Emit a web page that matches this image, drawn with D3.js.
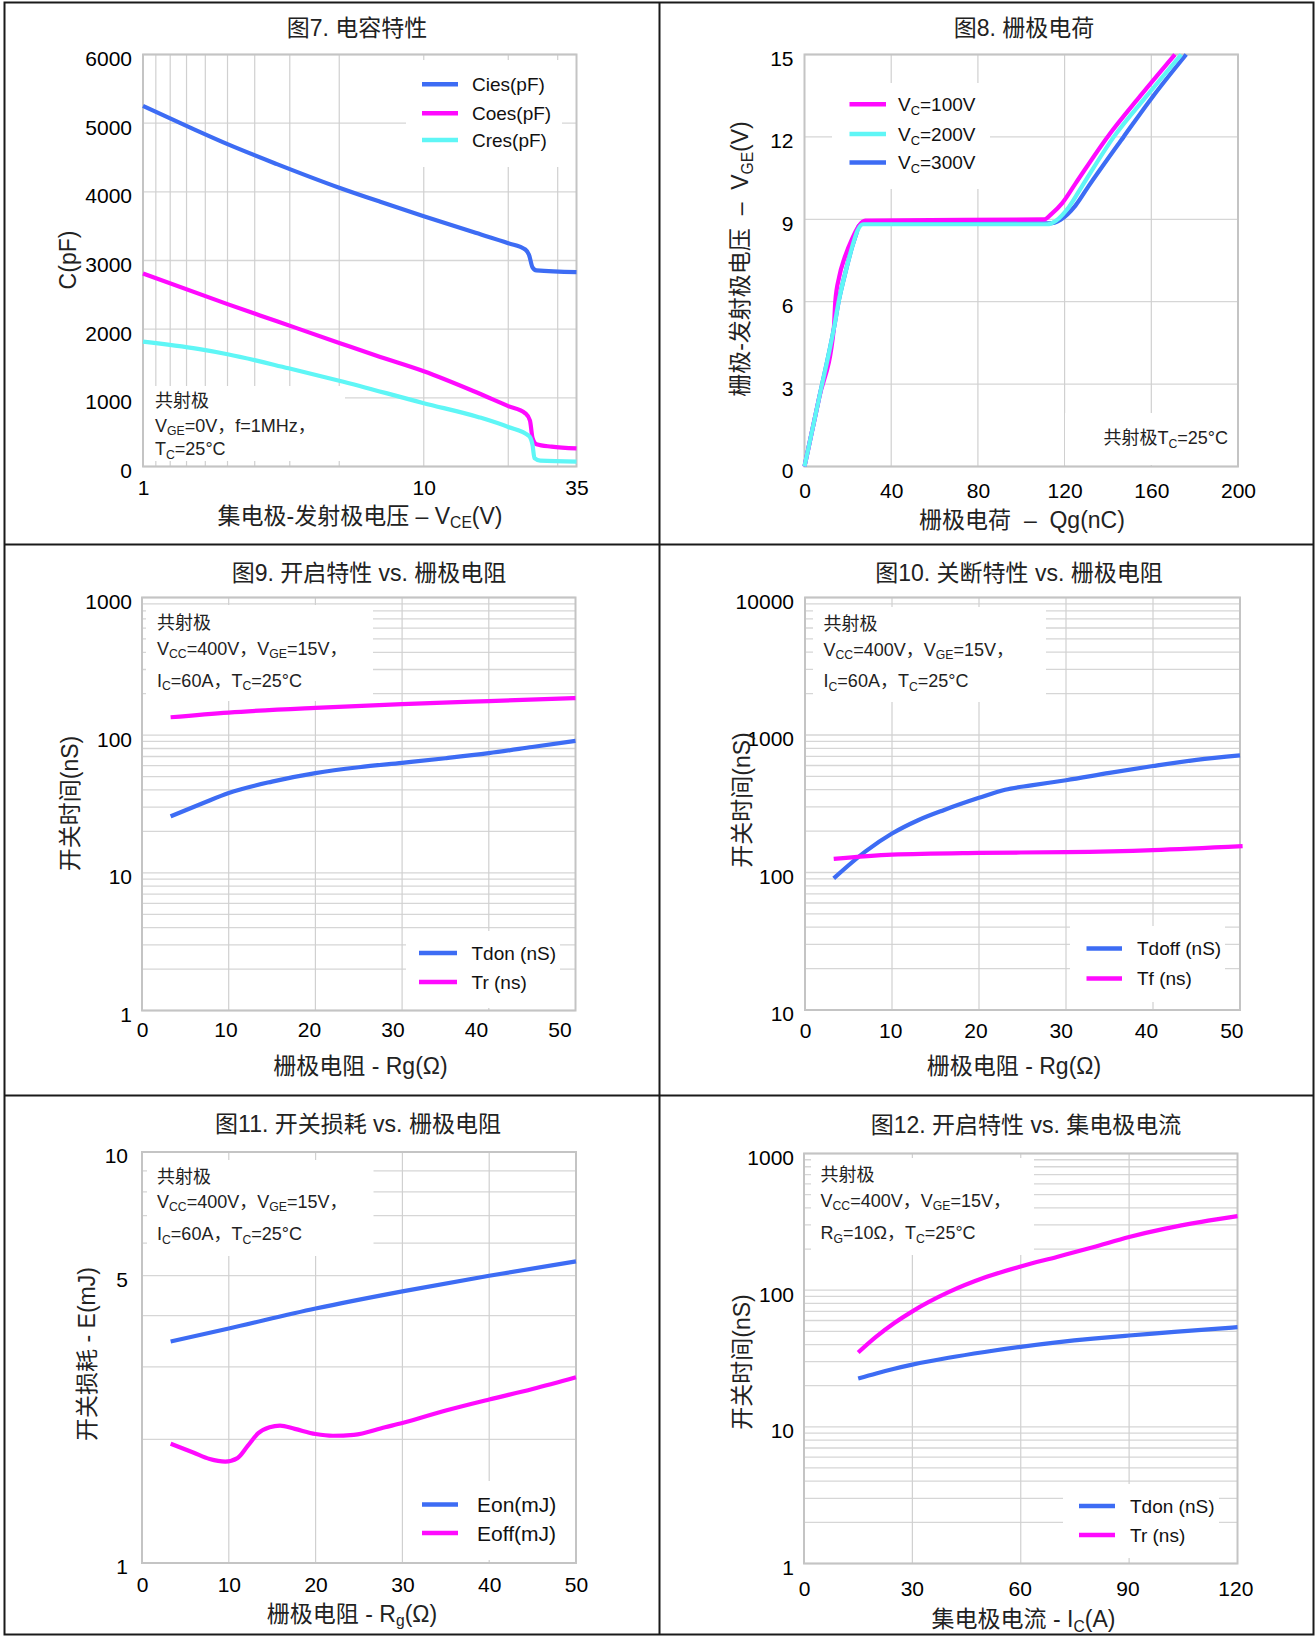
<!DOCTYPE html>
<html>
<head>
<meta charset="utf-8">
<script src="https://cdn.jsdelivr.net/npm/d3@7"></script>
<style>
  body { margin: 0; background: #fff; }
  svg { display: block; }
  text { font-family: 'Liberation Sans', Arial, 'Noto Sans CJK SC', sans-serif; fill: #111; }
</style>
</head>
<body>
<script>
// ---- 图7 电容特性 ----
const fig7XTicks = [1, 10, 35];
const fig7XGrid = [1.111, 1.25, 1.429, 1.667, 2, 2.5, 3.333, 5, 10, 20, 30];
const fig7YTicks = [0, 1000, 2000, 3000, 4000, 5000, 6000];
const fig7CiesV = [1, 1.5, 2, 3, 5, 7, 10, 15, 20, 23, 23.7, 24.4, 25.2, 35];
const fig7Cies = [5250, 4920, 4694, 4404, 4060, 3855, 3646, 3414, 3252, 3160, 3085, 2900, 2855, 2830];
const fig7CoesV = [1, 2, 3, 5, 7, 10, 15, 20, 23, 23.9, 24.4, 25.2, 28.5, 35];
const fig7Coes = [2810, 2365, 2115, 1800, 1595, 1387, 1100, 880, 775, 668, 415, 324, 289, 263];
const fig7CresV = [1, 1.57, 2, 3.3, 5, 10, 15.8, 20, 23.7, 24.4, 24.8, 26, 35];
const fig7Cres = [1818, 1712, 1635, 1430, 1250, 922, 715, 575, 445, 314, 122, 86, 71];

// ---- 图8 栅极电荷 ----
const fig8XTicks = [0, 40, 80, 120, 160, 200];
const fig8YTicks = [0, 3, 6, 9, 12, 15];
const fig8Q100 = [0, 6.75, 13.5, 14.2, 16, 18.5, 22, 25, 28, 110.7, 114, 119, 125, 139.8, 155, 170.9];
const fig8V100 = [0, 2.5, 5, 6, 6.9, 7.6, 8.3, 8.75, 8.95, 9.0, 9.2, 9.6, 10.3, 12, 13.5, 15];
const fig8Q200 = [0, 6.75, 13.5, 16, 19, 22, 24.5, 27, 112, 116, 122, 128, 142.7, 158, 173.8];
const fig8V200 = [0, 2.5, 5, 6.1, 7.1, 8.0, 8.6, 8.82, 8.82, 8.95, 9.45, 10.2, 12, 13.5, 15];
const fig8Q300 = [0, 6.75, 13.5, 16, 19, 22, 24, 25, 27, 113, 118, 125, 131, 147.2, 161, 176.1];
const fig8V300 = [0, 2.5, 5, 6.1, 7.1, 8.0, 8.5, 8.75, 8.85, 8.85, 8.98, 9.5, 10.2, 12, 13.5, 15];

// ---- 图9 开启特性 vs. 栅极电阻 ----
const fig9XTicks = [0, 10, 20, 30, 40, 50];
const fig9YTicks = [1, 10, 100, 1000];
const fig9RgTdon = [3.3, 7, 10, 15, 20, 25, 30, 35, 40, 45, 50];
const fig9Tdon = [25.7, 32, 38, 46, 53, 58.5, 63, 68, 74, 82, 91];
const fig9RgTr = [3.3, 10, 20, 30, 40, 50];
const fig9Tr = [135, 146, 158, 168, 177, 186];

// ---- 图10 关断特性 vs. 栅极电阻 ----
const fig10XTicks = [0, 10, 20, 30, 40, 50];
const fig10YTicks = [10, 100, 1000, 10000];
const fig10RgTdoff = [3.3, 7, 10, 13, 16, 20, 23, 26, 30, 35, 40, 45, 50];
const fig10Tdoff = [90.6, 143, 192, 240, 285, 349, 400, 430, 469, 530, 595, 660, 711];
const fig10RgTf = [3.3, 10, 20, 30, 40, 50.3];
const fig10Tf = [125.6, 134.9, 139, 140.6, 145.6, 155.6];

// ---- 图11 开关损耗 vs. 栅极电阻 ----
const fig11XTicks = [0, 10, 20, 30, 40, 50];
const fig11YTicks = [1, 5, 10];
const fig11RgEon = [3.3, 10, 20, 30, 40, 50];
const fig11Eon = [3.46, 3.72, 4.16, 4.58, 5.0, 5.42];
const fig11RgEoff = [3.3, 5.9, 7.8, 9.6, 11, 12.2, 13.4, 14.7, 15.9, 17.6, 20, 22, 24.4, 28, 30, 35, 40, 45, 50];
const fig11Eoff = [1.95, 1.857, 1.79, 1.765, 1.80, 1.93, 2.07, 2.14, 2.16, 2.12, 2.06, 2.04, 2.05, 2.14, 2.19, 2.35, 2.50, 2.65, 2.83];

// ---- 图12 开启特性 vs. 集电极电流 ----
const fig12XTicks = [0, 30, 60, 90, 120];
const fig12YTicks = [1, 10, 100, 1000];
const fig12Ic = [15, 20, 25, 30, 40, 50, 60, 70, 80, 90, 100, 110, 120];
const fig12Tdon = [22.6, 24.6, 26.6, 28.5, 32.0, 35.3, 38.5, 41.5, 44.2, 46.6, 48.9, 51.3, 53.6];
const fig12Tr = [35, 45.7, 57.5, 70, 96.6, 123.6, 149, 175, 206, 245, 282, 316, 348];

const BLUE = "#3d6cf4", MAGENTA = "#ff0aff", CYAN = "#5ff6f6";
const W = 1315, H = 1637;

const svg = d3.select("body").append("svg").attr("width", W).attr("height", H);
svg.append("rect").attr("width", W).attr("height", H).attr("fill", "#fff");

// text with _{sub} markup
function rich(sel, str, size) {
  const parts = str.split(/(_\{[^}]*\})/);
  let down = false;
  parts.forEach(p => {
    if (!p) return;
    if (p.startsWith("_{")) {
      sel.append("tspan").attr("font-size", size * 0.68).attr("dy", size * 0.2).text(p.slice(2, -1));
      down = true;
    } else {
      const t = sel.append("tspan").text(p);
      if (down) { t.attr("dy", -size * 0.2); down = false; }
    }
  });
}

function drawPanel(p) {
  const [L, R, T, B] = p.box;
  const x = (p.xLog ? d3.scaleLog() : d3.scaleLinear()).domain(p.xDomain).range([L, R]);
  const y = (p.yLog ? d3.scaleLog() : d3.scaleLinear()).domain(p.yDomain).range([B, T]);
  const g = svg.append("g");

  // grid
  const yGrid = p.yLog ? y.ticks() : p.yTicks;
  g.append("g").selectAll("line").data(yGrid).join("line")
    .attr("x1", L).attr("x2", R).attr("y1", d => y(d)).attr("y2", d => y(d))
    .attr("stroke", "#d6d6d6").attr("stroke-width", 1.3);
  g.append("g").selectAll("line").data(p.xGrid).join("line")
    .attr("x1", d => x(d)).attr("x2", d => x(d)).attr("y1", T).attr("y2", B)
    .attr("stroke", "#d0d0d0").attr("stroke-width", 1.2);

  // white boxes for notes and legend
  p.boxes.forEach(b => g.append("rect").attr("x", b[0]).attr("y", b[1])
    .attr("width", b[2] - b[0]).attr("height", b[3] - b[1]).attr("fill", "#fff"));

  // frame
  g.append("rect").attr("x", L).attr("y", T).attr("width", R - L).attr("height", B - T)
    .attr("fill", "none").attr("stroke", "#c4c4c4").attr("stroke-width", 2);

  // axes
  const yAxis = d3.axisLeft(y).tickValues(p.yTicks).tickSize(0).tickPadding(p.yPad).tickFormat(d => d);
  const ya = g.append("g").attr("transform", `translate(${L},0)`).call(yAxis)
    .attr("font-family", null).attr("font-size", 21);
  ya.select(".domain").remove();
  ya.selectAll("text").attr("dy", "0.52em").style("fill", "#000");

  const lx = p.xLabelShrink ? d3.scaleLinear().domain(p.xDomain).range([L, L + (R - L) * p.xLabelShrink]) : x;
  const xAxis = d3.axisBottom(lx).tickValues(p.xTicks).tickSize(0).tickFormat(d => d);
  const xa = g.append("g").attr("transform", `translate(0,${B})`).call(xAxis)
    .attr("font-family", null).attr("font-size", 21);
  xa.select(".domain").remove();
  xa.selectAll("text").attr("y", p.xLabY).attr("dy", 0).style("fill", "#000");

  // curves
  const line = d3.line().x(d => x(d[0])).y(d => y(d[1])).curve(d3.curveMonotoneX);
  p.series.forEach(s => g.append("path").datum(d3.zip(s.x, s.y)).attr("d", line)
    .attr("fill", "none").attr("stroke", s.color).attr("stroke-width", 4.2));

  // legend
  p.series.slice().sort((a, b) => a.order - b.order).forEach((s, i) => {
    const ry = p.leg.rows[i];
    g.append("line").attr("x1", p.leg.x0).attr("x2", p.leg.x1).attr("y1", ry).attr("y2", ry)
      .attr("stroke", s.color).attr("stroke-width", 4.5);
    const t = g.append("text").attr("x", p.leg.tx).attr("y", ry + p.leg.size * 0.36)
      .attr("font-size", p.leg.size);
    rich(t, s.name, p.leg.size);
  });

  // notes
  p.notes.forEach(n => {
    const t = g.append("text").attr("x", n.x).attr("y", n.y).attr("font-size", 18)
      .attr("text-anchor", n.anchor || "start").style("fill", "#222");
    rich(t, n.text, 18);
  });

  // titles
  g.append("text").attr("x", p.title[1]).attr("y", p.title[2]).attr("text-anchor", "middle")
    .attr("font-size", 23).style("fill", "#222").text(p.title[0]);
  const xt = g.append("text").attr("x", p.xTitle[1]).attr("y", p.xTitle[2]).attr("text-anchor", "middle")
    .attr("font-size", 23).style("fill", "#222").style("white-space", "pre");
  rich(xt, p.xTitle[0], 23);
  const yt = g.append("text").attr("transform", `translate(${p.yTitle[1]},${p.yTitle[2]}) rotate(-90)`)
    .attr("text-anchor", "middle").attr("font-size", 23).style("fill", "#222").style("white-space", "pre");
  rich(yt, p.yTitle[0], 23);
}

const note3 = (x, ys, last) => [
  { text: "共射极", x, y: ys[0] },
  { text: "V_{CC}=400V，V_{GE}=15V，", x, y: ys[1] },
  { text: last, x, y: ys[2] }
];

const panels = [
  {
    box: [143, 576.5, 54.5, 466.5], xLog: true, xDomain: [1, 35], yDomain: [0, 6000],
    xTicks: fig7XTicks, xGrid: fig7XGrid, yTicks: fig7YTicks, yPad: 11, xLabY: 28.5,
    boxes: [[406, 60, 562, 167], [144, 386, 345, 461]],
    series: [
      { name: "Cies(pF)", x: fig7CiesV, y: fig7Cies, color: BLUE, order: 0 },
      { name: "Coes(pF)", x: fig7CoesV, y: fig7Coes, color: MAGENTA, order: 1 },
      { name: "Cres(pF)", x: fig7CresV, y: fig7Cres, color: CYAN, order: 2 }
    ],
    leg: { x0: 422, x1: 458, tx: 472, rows: [84.3, 113.3, 140], size: 19 },
    notes: [
      { text: "共射极", x: 155, y: 407 },
      { text: "V_{GE}=0V，f=1MHz，", x: 155, y: 431.5 },
      { text: "T_{C}=25°C", x: 155, y: 455 }
    ],
    title: ["图7. 电容特性", 357, 35.5],
    xTitle: ["集电极-发射极电压 – V_{CE}(V)", 360, 523.5],
    yTitle: ["C(pF)", 75.5, 260]
  },
  {
    box: [804.5, 1238, 54.5, 466.5], xDomain: [0, 200], yDomain: [0, 15],
    xTicks: fig8XTicks, xGrid: [40, 80, 120, 160], yTicks: fig8YTicks, yPad: 11, xLabY: 31.5,
    boxes: [[832, 83, 990, 189], [1065, 413, 1237, 465]],
    series: [
      { name: "V_{C}=300V", x: fig8Q300, y: fig8V300, color: BLUE, order: 2 },
      { name: "V_{C}=100V", x: fig8Q100, y: fig8V100, color: MAGENTA, order: 0 },
      { name: "V_{C}=200V", x: fig8Q200, y: fig8V200, color: CYAN, order: 1 }
    ],
    leg: { x0: 849.5, x1: 886, tx: 898, rows: [104.3, 134, 162.6], size: 19 },
    notes: [{ text: "共射极T_{C}=25°C", x: 1228, y: 444, anchor: "end" }],
    title: ["图8. 栅极电荷", 1024, 35.5],
    xTitle: ["栅极电荷  –  Qg(nC)", 1022, 528],
    yTitle: ["栅极-发射极电压  –  V_{GE}(V)", 748, 259]
  },
  {
    box: [142, 575.5, 597.5, 1010.5], yLog: true, xDomain: [0, 50], yDomain: [1, 1000],
    xTicks: fig9XTicks, xGrid: [10, 20, 30, 40], yTicks: fig9YTicks, yPad: 10, xLabY: 26, xLabelShrink: 0.963,
    boxes: [[146, 605, 373, 701], [406, 931, 560, 1008]],
    series: [
      { name: "Tdon (nS)", x: fig9RgTdon, y: fig9Tdon, color: BLUE, order: 0 },
      { name: "Tr (ns)", x: fig9RgTr, y: fig9Tr, color: MAGENTA, order: 1 }
    ],
    leg: { x0: 419, x1: 457, tx: 471.5, rows: [953, 982], size: 19 },
    notes: note3(157, [628.5, 654.5, 686.5], "I_{C}=60A，T_{C}=25°C"),
    title: ["图9. 开启特性 vs. 栅极电阻", 369, 580.5],
    xTitle: ["栅极电阻 - Rg(Ω)", 360.5, 1073.5],
    yTitle: ["开关时间(nS)", 78, 803.5]
  },
  {
    box: [805, 1240, 597.5, 1010], yLog: true, xDomain: [0, 50], yDomain: [10, 10000],
    xTicks: fig10XTicks, xGrid: [10, 20, 30, 40], yTicks: fig10YTicks, yPad: 11, xLabY: 27.5, xLabelShrink: 0.98,
    boxes: [[813, 607, 1046, 702], [1070, 926, 1225, 1002]],
    series: [
      { name: "Tdoff (nS)", x: fig10RgTdoff, y: fig10Tdoff, color: BLUE, order: 0 },
      { name: "Tf (ns)", x: fig10RgTf, y: fig10Tf, color: MAGENTA, order: 1 }
    ],
    leg: { x0: 1086.5, x1: 1122, tx: 1137, rows: [948.5, 978.5], size: 19 },
    notes: note3(823.5, [629.5, 655.5, 687], "I_{C}=60A，T_{C}=25°C"),
    title: ["图10. 关断特性 vs. 栅极电阻", 1019, 580.5],
    xTitle: ["栅极电阻 - Rg(Ω)", 1014, 1073.5],
    yTitle: ["开关时间(nS)", 750, 800]
  },
  {
    box: [142, 576, 1152, 1563], yLog: true, xDomain: [0, 50], yDomain: [1, 10],
    xTicks: fig11XTicks, xGrid: [10, 20, 30, 40], yTicks: fig11YTicks, yPad: 14, xLabY: 29,
    boxes: [[147, 1160, 373.5, 1256], [415, 1481, 575, 1560]],
    series: [
      { name: "Eon(mJ)", x: fig11RgEon, y: fig11Eon, color: BLUE, order: 0 },
      { name: "Eoff(mJ)", x: fig11RgEoff, y: fig11Eoff, color: MAGENTA, order: 1 }
    ],
    leg: { x0: 422, x1: 458, tx: 477, rows: [1504.5, 1533], size: 21 },
    notes: note3(157, [1182.5, 1207.5, 1240], "I_{C}=60A，T_{C}=25°C"),
    title: ["图11. 开关损耗 vs. 栅极电阻", 358, 1131.5],
    xTitle: ["栅极电阻 - R_{g}(Ω)", 352, 1621.5],
    yTitle: ["开关损耗 - E(mJ)", 94.5, 1354]
  },
  {
    box: [804, 1237.5, 1153.5, 1563.5], yLog: true, xDomain: [0, 120], yDomain: [1, 1000],
    xTicks: fig12XTicks, xGrid: [30, 60, 90], yTicks: fig12YTicks, yPad: 10, xLabY: 32.5, xLabelShrink: 0.995,
    boxes: [[811, 1158, 1034, 1255], [1063, 1484, 1219, 1558]],
    series: [
      { name: "Tdon (nS)", x: fig12Ic, y: fig12Tdon, color: BLUE, order: 0 },
      { name: "Tr (ns)", x: fig12Ic, y: fig12Tr, color: MAGENTA, order: 1 }
    ],
    leg: { x0: 1079, x1: 1115, tx: 1130, rows: [1506, 1535], size: 19 },
    notes: note3(820.5, [1180.5, 1206.5, 1239], "R_{G}=10Ω，T_{C}=25°C"),
    title: ["图12. 开启特性 vs. 集电极电流", 1026, 1132.5],
    xTitle: ["集电极电流 - I_{C}(A)", 1023.5, 1627],
    yTitle: ["开关时间(nS)", 750, 1362]
  }
];

panels.forEach(drawPanel);

// outer frame and dividers
svg.append("rect").attr("x", 4.5).attr("y", 2.5).attr("width", 1309).attr("height", 1632)
  .attr("fill", "none").attr("stroke", "#1a1a1a").attr("stroke-width", 2);
svg.append("line").attr("x1", 659.5).attr("x2", 659.5).attr("y1", 2.5).attr("y2", 1634.5)
  .attr("stroke", "#1a1a1a").attr("stroke-width", 2);
[544.5, 1095.5].forEach(yy => svg.append("line").attr("x1", 4.5).attr("x2", 1313.5)
  .attr("y1", yy).attr("y2", yy).attr("stroke", "#1a1a1a").attr("stroke-width", 2));
</script>
</body>
</html>
